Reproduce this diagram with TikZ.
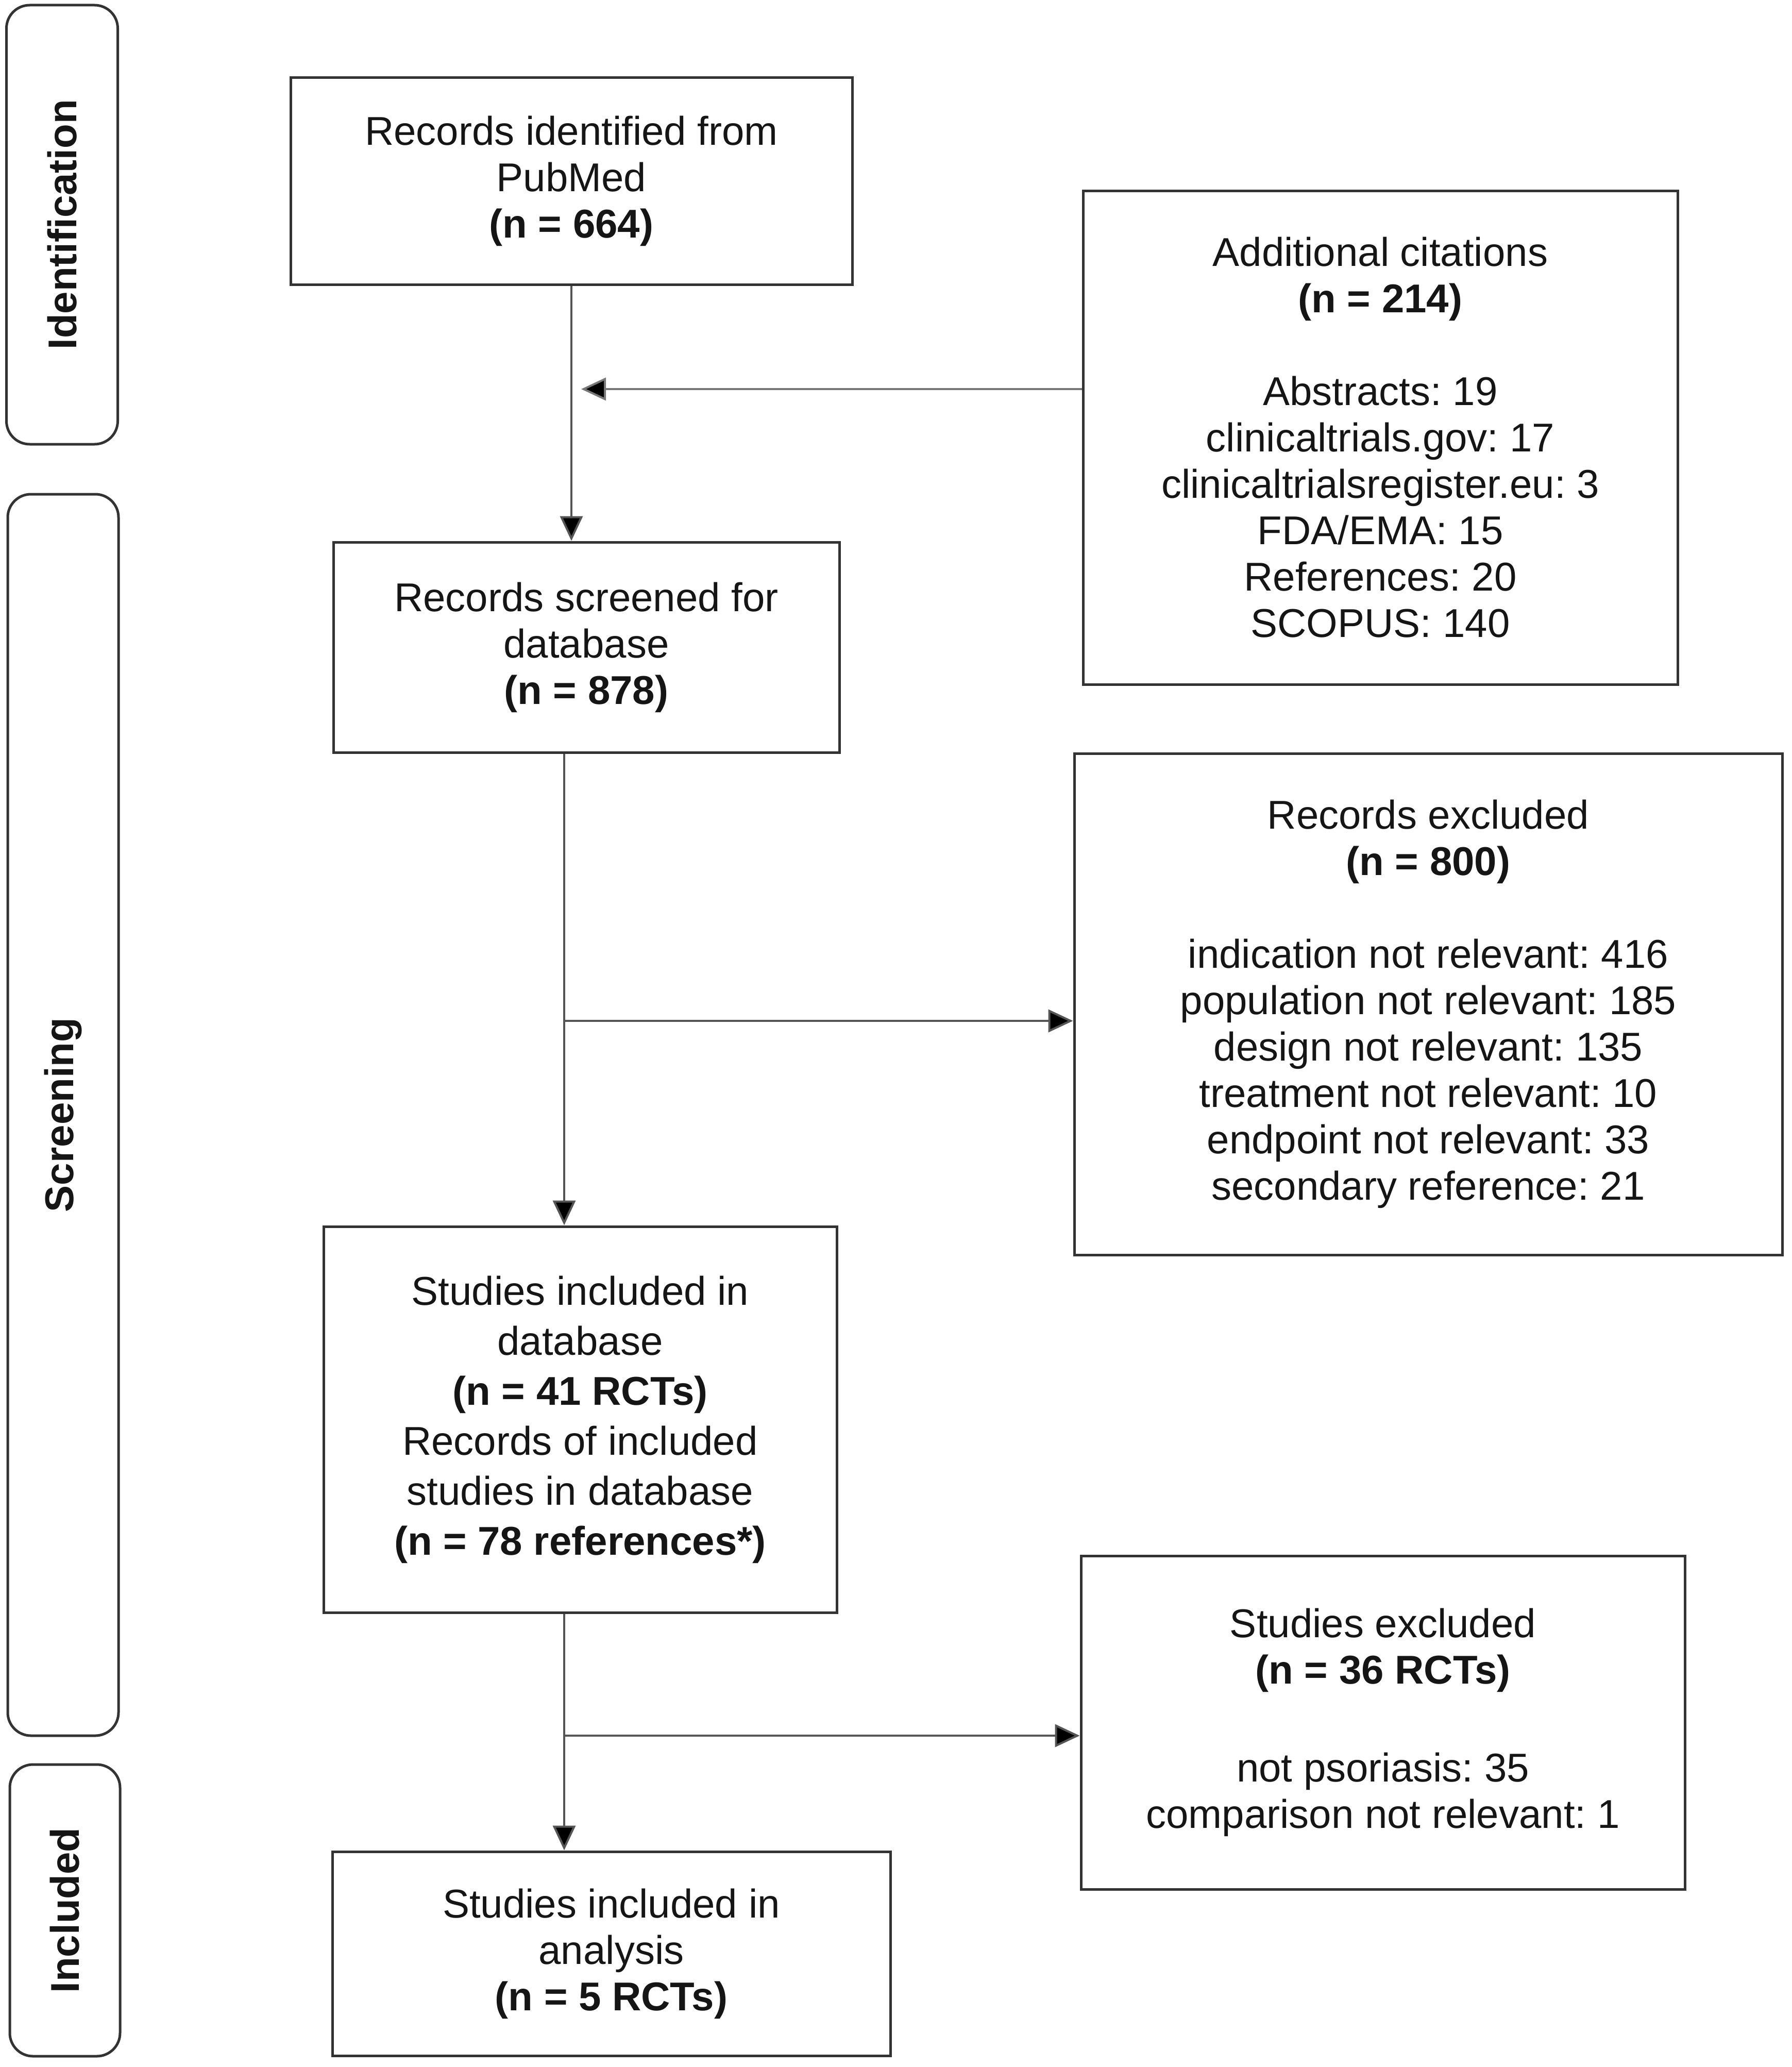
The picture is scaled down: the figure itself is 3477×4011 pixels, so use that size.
\documentclass[tikz,border=0pt]{standalone}
\usepackage{fontspec}
\setmainfont{Liberation Sans}
\usetikzlibrary{arrows.meta,calc}
\definecolor{boxline}{HTML}{333333}
\definecolor{conline}{HTML}{555555}
\definecolor{txt}{HTML}{151515}
\frenchspacing
\begin{document}
\begin{tikzpicture}[x=1pt,y=-1pt,
  box/.style={draw=boxline,line width=5pt,inner sep=0pt,align=center,text=txt,
    font=\fontsize{78pt}{90pt}\selectfont\frenchspacing},
  sidebox/.style={draw=boxline,line width=5pt,rounded corners=45pt,inner sep=0pt},
  sidelabel/.style={rotate=90,text=txt,font=\fontsize{78pt}{92pt}\selectfont\bfseries},
  arr/.style={draw=conline,line width=4pt,-{Triangle[length=48pt,width=44pt,fill=black]}}]
\useasboundingbox (0,0) rectangle (3477,4011);

% side phase boxes
\node[sidebox,minimum width=216pt,minimum height=852pt] (idb) at (120.5,436) {};
\node[sidebox,minimum width=215pt,minimum height=2409pt] (scb) at (122.5,2163.5) {};
\node[sidebox,minimum width=214pt,minimum height=566pt] (inb) at (126,3707) {};
\node[sidelabel] (idl) at (idb.center) {Identification};
\node[sidelabel] (scl) at (scb.center) {Screening};
\node[sidelabel] (inl) at (inb.center) {Included};

% main boxes
\node[box,minimum width=1090pt,minimum height=401pt] (pub) at (1109,351.5)
  {Records identified from\\PubMed\\\textbf{(n = 664)}};
\node[box,minimum width=1154pt,minimum height=958pt] (add) at (2679,849)
  {Additional citations\\\textbf{(n = 214)}\\[90pt]Abstracts: 19\\clinicaltrials.gov: 17\\clinicaltrialsregister.eu: 3\\FDA/EMA: 15\\References: 20\\SCOPUS: 140};
\node[box,minimum width=982pt,minimum height=408pt] (scr) at (1138,1256)
  {Records screened for\\database\\\textbf{(n = 878)}};
\node[box,minimum width=1374pt,minimum height=973pt] (rex) at (2772,1948.5)
  {Records excluded\\\textbf{(n = 800)}\\[90pt]indication not relevant: 416\\population not relevant: 185\\design not relevant: 135\\treatment not relevant: 10\\endpoint not relevant: 33\\secondary reference: 21};
\node[box,minimum width=996pt,minimum height=749pt,font=\fontsize{78pt}{97pt}\selectfont\frenchspacing] (sdb) at (1126,2754.5)
  {Studies included in\\database\\\textbf{(n = 41 RCTs)}\\Records of included\\studies in database\\\textbf{(n = 78 references*)}};
\node[box,minimum width=1172pt,minimum height=647pt] (sex) at (2684,3342.5)
  {Studies excluded\\\textbf{(n = 36 RCTs)}\\[100pt]not psoriasis: 35\\comparison not relevant: 1};
\node[box,minimum width=1083pt,minimum height=396pt] (fin) at (1186.5,3791)
  {Studies included in\\analysis\\\textbf{(n = 5 RCTs)}};

% connectors
\coordinate (j1) at (1128,755);
\coordinate (s1) at (1095,0);
\coordinate (b1) at (1095,1981);
\coordinate (b2) at (1095,3368);
\draw[arr] (pub.south) -- (pub.south |- scr.north);
\draw[arr,draw=conline!80!white] (add.west |- j1) -- (j1);
\draw[arr] (scr.south -| s1) -- (sdb.north -| s1);
\draw[arr] (b1) -- (b1 -| rex.west);
\draw[arr] (sdb.south -| s1) -- (fin.north -| s1);
\draw[arr] (b2) -- (b2 -| sex.west);
\end{tikzpicture}
\end{document}
